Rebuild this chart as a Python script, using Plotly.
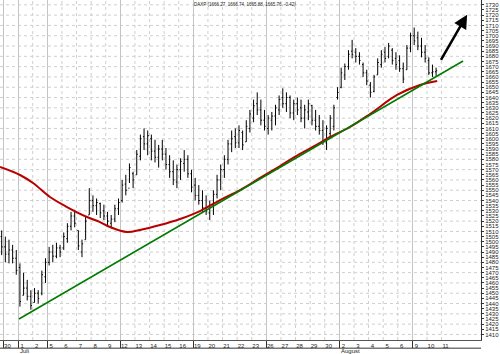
import plotly.graph_objects as go

# ---- axis categories -------------------------------------------------------
day_labels = ["30", "1", "2", "5", "6", "7", "8", "9", "12", "13", "14", "15", "16",
              "19", "20", "21", "22", "23", "26", "27", "28", "29", "30",
              "2", "3", "4", "5", "6", "9", "10", "11"]
week_starts = [0, 1, 3, 8, 13, 18, 23, 28]
month_labels = ["Juli", "August"]
month_starts = [1, 23]
y_tick_values = list(range(1410, 1731, 5))

# ---- price bars (4 bars per trading day) -----------------------------------
bar_high = [1511, 1505, 1502, 1497, 1492, 1479, 1470, 1463, 1453, 1455, 1453, 1472,
            1484, 1495, 1497, 1499, 1497, 1509, 1518, 1529, 1531, 1511, 1502, 1524,
            1552, 1545, 1542, 1538, 1536, 1529, 1526, 1536, 1542, 1560, 1565, 1576,
            1568, 1589, 1604, 1610, 1608, 1604, 1599, 1594, 1599, 1591, 1584, 1579,
            1575, 1581, 1589, 1584, 1570, 1562, 1555, 1550, 1545, 1540, 1550, 1565,
            1575, 1584, 1599, 1608, 1610, 1613, 1608, 1618, 1628, 1638, 1645, 1638,
            1628, 1623, 1626, 1633, 1642, 1649, 1645, 1642, 1638, 1640, 1638, 1633,
            1638, 1633, 1628, 1623, 1618, 1613, 1623, 1633, 1650, 1669, 1673, 1686,
            1696, 1688, 1684, 1674, 1667, 1655, 1662, 1678, 1686, 1689, 1693, 1688,
            1684, 1681, 1674, 1691, 1703, 1708, 1704, 1698, 1691, 1679, 1672, 1669]
bar_low = [1487, 1480, 1479, 1479, 1468, 1437, 1448, 1443, 1434, 1441, 1440, 1448,
           1460, 1477, 1480, 1484, 1485, 1492, 1499, 1511, 1514, 1492, 1485, 1502,
           1526, 1529, 1526, 1523, 1521, 1516, 1513, 1519, 1526, 1538, 1545, 1557,
           1552, 1565, 1579, 1589, 1584, 1579, 1577, 1572, 1579, 1570, 1562, 1555,
           1552, 1560, 1568, 1562, 1548, 1540, 1536, 1529, 1526, 1521, 1526, 1542,
           1550, 1562, 1575, 1587, 1591, 1591, 1589, 1597, 1606, 1616, 1623, 1613,
           1608, 1604, 1608, 1613, 1623, 1630, 1626, 1620, 1618, 1623, 1616, 1610,
           1618, 1613, 1608, 1604, 1594, 1589, 1601, 1608, 1638, 1649, 1657, 1667,
           1678, 1674, 1672, 1660, 1652, 1640, 1645, 1662, 1669, 1674, 1678, 1672,
           1667, 1665, 1654, 1667, 1684, 1691, 1686, 1679, 1674, 1662, 1660, 1661]
bar_open = [1505, 1495, 1488, 1492, 1484, 1475, 1448, 1455, 1447, 1441, 1450, 1450,
            1466, 1480, 1490, 1486, 1494, 1494, 1503, 1515, 1525, 1511, 1490, 1502,
            1526, 1540, 1535, 1537, 1530, 1525, 1518, 1522, 1532, 1540, 1556, 1552,
            1566, 1565, 1583, 1602, 1595, 1600, 1588, 1582, 1590, 1585, 1575, 1568,
            1558, 1570, 1576, 1580, 1566, 1555, 1545, 1540, 1533, 1528, 1535, 1546,
            1560, 1570, 1580, 1595, 1602, 1596, 1606, 1597, 1610, 1620, 1634, 1628,
            1618, 1610, 1618, 1622, 1628, 1640, 1634, 1640, 1625, 1634, 1630, 1620,
            1626, 1632, 1618, 1612, 1608, 1596, 1605, 1612, 1640, 1650, 1662, 1670,
            1685, 1684, 1680, 1672, 1664, 1652, 1646, 1662, 1672, 1684, 1680, 1686,
            1678, 1676, 1668, 1667, 1688, 1700, 1698, 1690, 1684, 1676, 1664, 1665]
bar_close = [1495, 1488, 1492, 1484, 1472, 1442, 1455, 1447, 1438, 1450, 1445, 1468,
             1480, 1490, 1486, 1494, 1490, 1505, 1515, 1525, 1518, 1496, 1498, 1520,
             1540, 1535, 1538, 1528, 1525, 1520, 1522, 1532, 1538, 1555, 1550, 1572,
             1560, 1585, 1600, 1595, 1603, 1588, 1582, 1590, 1585, 1575, 1568, 1560,
             1570, 1578, 1580, 1566, 1553, 1545, 1540, 1533, 1530, 1535, 1546, 1560,
             1570, 1580, 1595, 1600, 1596, 1608, 1594, 1612, 1624, 1632, 1628, 1618,
             1612, 1620, 1622, 1630, 1638, 1634, 1640, 1625, 1634, 1628, 1620, 1628,
             1634, 1618, 1612, 1608, 1598, 1610, 1620, 1630, 1645, 1664, 1670, 1682,
             1682, 1680, 1676, 1664, 1656, 1645, 1660, 1674, 1682, 1678, 1690, 1676,
             1672, 1668, 1658, 1688, 1700, 1695, 1690, 1684, 1678, 1664, 1665, 1666]
bars_per_day = 4
bar_x = [(k - 1) / bars_per_day + 0.5 / bars_per_day for k in range(len(bar_high))]

# ---- moving average --------------------------------------------------------
ma_x = [-0.24, 1.13, 2.02, 3.18, 4.35, 5.72, 6.61, 7.29, 8.46, 9.35, 10.72, 12.09,
        13.46, 14.83, 16.2, 17.57, 18.94, 20.3, 21.68, 22.36, 23.73, 25.1, 26.95,
        28.52, 29.7]
ma_vals = [1572.5, 1564.8, 1557.0, 1543.4, 1533.7, 1524.0, 1519.1, 1514.3, 1509.4,
           1511.4, 1516.2, 1522.1, 1529.8, 1540.5, 1550.2, 1561.9, 1573.5, 1585.2,
           1595.9, 1601.7, 1611.4, 1624.0, 1642.5, 1652.2, 1656.0]

# ---- trend line and arrow ---------------------------------------------------
trend_x = [1.06, 31.47]
trend_y = [1425.0, 1675.5]
arrow_from = (29.9, 1675.0)
arrow_to = (31.75, 1720.5)

title_text = "DAXP (1666.27, 1666.74, 1665.88, 1665.76, -0.42)"

fig = go.Figure()
fig.add_trace(go.Ohlc(x=bar_x, open=bar_open, high=bar_high, low=bar_low, close=bar_close,
                      increasing=dict(line=dict(color="black", width=1)),
                      decreasing=dict(line=dict(color="black", width=1)),
                      tickwidth=0.3, hoverinfo="skip"))
fig.add_trace(go.Scatter(x=ma_x, y=ma_vals, mode="lines",
                         line=dict(color="#b80000", width=2, shape="spline"), hoverinfo="skip"))
fig.add_trace(go.Scatter(x=trend_x, y=trend_y, mode="lines",
                         line=dict(color="#007a00", width=1.5), hoverinfo="skip"))

shapes = []
for d in range(len(day_labels)):
    if d not in week_starts:
        shapes.append(dict(type="line", xref="x", yref="paper", x0=d, x1=d, y0=0, y1=1,
                           line=dict(color="#cfcfcf", width=1, dash="dot"), layer="below"))
for v in range(1410, 1731, 10):
    shapes.append(dict(type="line", xref="paper", yref="y", x0=0, x1=1, y0=v, y1=v,
                       line=dict(color="#cfcfcf", width=1, dash="dot"), layer="below"))
shapes.append(dict(type="line", xref="paper", yref="paper", x0=0, x1=1, y0=-0.024, y1=-0.024,
                   line=dict(color="#333333", width=1)))

annotations = [
    dict(x=arrow_to[0], y=arrow_to[1], ax=arrow_from[0], ay=arrow_from[1],
         xref="x", yref="y", axref="x", ayref="y", text="", showarrow=True,
         arrowhead=2, arrowsize=1.1, arrowwidth=2.5, arrowcolor="black"),
    dict(x=192 / 481, y=0.988, xref="paper", yref="paper", text=title_text,
         showarrow=False, xanchor="left", yanchor="middle",
         font=dict(family="Liberation Sans", size=4.5, color="#222222")),
]
for lab, pos in zip(month_labels, month_starts):
    annotations.append(dict(x=pos, y=-0.033, xref="x", yref="paper", text=lab,
                            showarrow=False, xanchor="left", yanchor="middle",
                            font=dict(family="Liberation Sans", size=6, color="#222222")))

fig.update_layout(
    width=500, height=354, margin=dict(l=0, r=19, t=0, b=14),
    paper_bgcolor="white", plot_bgcolor="white", showlegend=False,
    shapes=shapes, annotations=annotations,
    xaxis=dict(range=[-0.24, 32.7], tickmode="array",
               tickvals=[d + 0.27 for d in range(len(day_labels))], ticktext=day_labels,
               ticks="", showgrid=False, zeroline=False, showline=True,
               linecolor="#555555", linewidth=1,
               tickfont=dict(family="Liberation Sans", size=6, color="#222222"),
               rangeslider=dict(visible=False),
               minor=dict(tickmode="array", tickvals=week_starts, ticks="outside",
                          ticklen=7, tickcolor="#333333", showgrid=True,
                          gridcolor="#c4c4c4", gridwidth=1)),
    yaxis=dict(side="right", range=[1404.6, 1734.7], tickmode="array",
               tickvals=y_tick_values, ticks="outside", ticklen=2, tickcolor="#333333",
               showline=True, linecolor="#333333", linewidth=1, showgrid=False,
               zeroline=False,
               tickfont=dict(family="Liberation Sans", size=6, color="#222222")),
)

fig.write_html("out.html")
